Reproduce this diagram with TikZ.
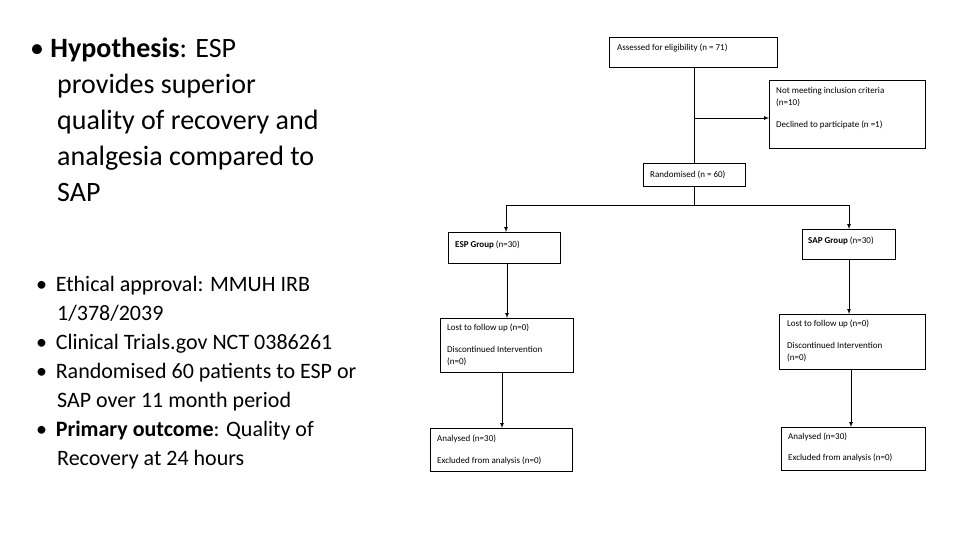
\documentclass[tikz,border=0pt]{standalone}
\usepackage{fontspec}
\setmainfont{Carlito}
\begin{document}
\begin{tikzpicture}[x=1pt,y=-1pt,
 bx/.style={draw,line width=0.6pt,inner sep=0pt,anchor=north west},
 t/.style={font=\fontsize{9}{10}\selectfont,anchor=west,inner sep=0pt},
 ar/.style={-latex,line width=0.7pt}]
\useasboundingbox[fill=white] (0,0) rectangle (960,540);
% left text
\node[anchor=north west,inner sep=0pt,align=left,font=\fontsize{28}{36}\selectfont] (hyp) at (30,38)
 {\textbullet\ \textbf{Hypothesis}: ESP\\\hspace*{27pt}provides superior\\\hspace*{27pt}quality of recovery and\\\hspace*{27pt}analgesia compared to\\\hspace*{27pt}SAP};
\node[anchor=north west,inner sep=0pt,align=left,font=\fontsize{22}{29}\selectfont] (lst) at (36,276)
 {\textbullet\ \,Ethical approval: MMUH IRB\\\hspace*{21pt}1/378/2039\\
 \textbullet\ \,Clinical Trials.gov NCT 0386261\\
 \textbullet\ \,Randomised 60 patients to ESP or\\\hspace*{21pt}SAP over 11 month period\\
 \textbullet\ \,\textbf{Primary outcome}: Quality of\\\hspace*{21pt}Recovery at 24 hours};
% boxes
\node[bx,minimum width=168,minimum height=30] (as) at (609,37) {};
\node[t] at (617,48) {Assessed for eligibility (n = 71)};
\node[bx,minimum width=156,minimum height=68] (nm) at (769,80) {};
\node[t] at (776,91) {Not meeting inclusion criteria};
\node[t] at (776,103) {(n=10)};
\node[t] at (776,125) {Declined to participate (n =1)};
\node[bx,minimum width=102,minimum height=23] (rd) at (643,163) {};
\node[t] at (650,175) {Randomised (n = 60)};
\node[bx,minimum width=112,minimum height=31] (esp) at (448,232) {};
\node[t] at (455,245) {\textbf{ESP Group} (n=30)};
\node[bx,minimum width=93,minimum height=30] (sap) at (802,229) {};
\node[t] at (808,241) {\textbf{SAP Group} (n=30)};
\node[bx,minimum width=133,minimum height=54] (l1) at (440,318) {};
\node[t] at (447,328) {Lost to follow up (n=0)};
\node[t] at (447,349) {Discontinued Intervention};
\node[t] at (447,362) {(n=0)};
\node[bx,minimum width=146,minimum height=55] (l2) at (779,314) {};
\node[t] at (787,324) {Lost to follow up (n=0)};
\node[t] at (787,345) {Discontinued Intervention};
\node[t] at (787,358) {(n=0)};
\node[bx,minimum width=142,minimum height=43] (a1) at (430,428) {};
\node[t] at (437,439) {Analysed (n=30)};
\node[t] at (437,461) {Excluded from analysis (n=0)};
\node[bx,minimum width=144,minimum height=43] (a2) at (781,427) {};
\node[t] at (788,437) {Analysed (n=30)};
\node[t] at (788,458) {Excluded from analysis (n=0)};
% connectors
\coordinate (j1) at (694,118);
\coordinate (j2) at (694,205);
\draw[line width=0.6pt] (as.south -| j1) -- (rd.north -| j1);
\draw[ar] (j1) -- (j1 -| nm.west);
\draw[line width=0.6pt] (rd.south -| j2) -- (j2);
\draw[ar] (j2) -| (506,232);
\draw[ar] (j2) -| (849,229);
\draw[ar] (507,263) -- (507,318);
\draw[ar] (502,372) -- (502,428);
\draw[ar] (849,259) -- (849,314);
\draw[ar] (851,369) -- (851,427);
\end{tikzpicture}
\end{document}
